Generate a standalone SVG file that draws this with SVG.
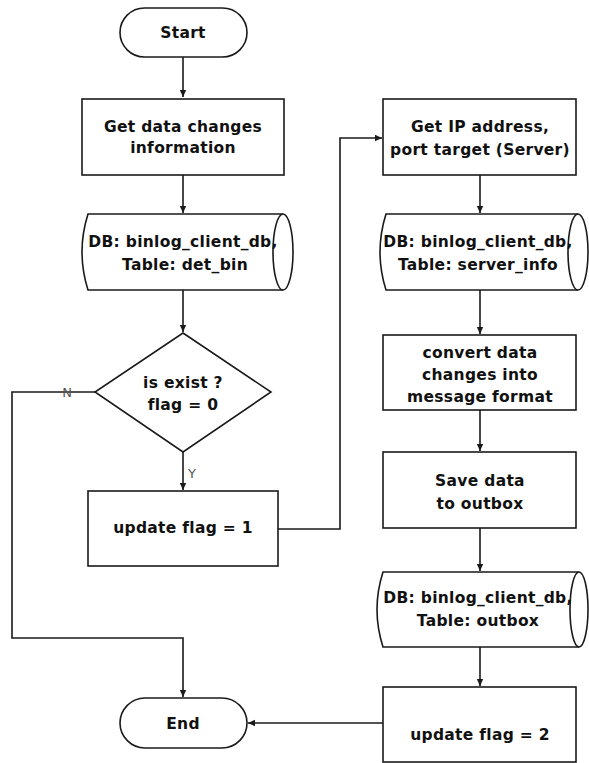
<svg xmlns="http://www.w3.org/2000/svg" width="589" height="763" viewBox="0 0 589 763">
<defs>
<marker id="arr" markerWidth="8" markerHeight="8" refX="7" refY="4" orient="auto" markerUnits="userSpaceOnUse">
<path d="M0,0.8 L7,4 L0,7.2 z" fill="#1a1a1a"/>
</marker>
<style>
.shape{fill:#fff;stroke:#1a1a1a;stroke-width:1.6}
.t{font-family:"DejaVu Sans","Liberation Sans",sans-serif;font-weight:bold;font-size:15.5px;fill:#111;text-anchor:middle;letter-spacing:0.3px}
.lbl{font-family:"DejaVu Sans","Liberation Sans",sans-serif;font-size:13px;fill:#555;text-anchor:middle}
.c{fill:none;stroke:#1a1a1a;stroke-width:1.6}
</style>
</defs>
<rect width="589" height="763" fill="#fff"/>
<g id="connectors">
<path class="c" d="M183 57 V97" marker-end="url(#arr)"/>
<path class="c" d="M183 175 V213" marker-end="url(#arr)"/>
<path class="c" d="M183 290 V332" marker-end="url(#arr)"/>
<path class="c" d="M183 452 V490" marker-end="url(#arr)"/>
<path class="c" d="M95 392 H12 V638 H183 V697" marker-end="url(#arr)"/>
<path class="c" d="M278 529 H340 V138 H382" marker-end="url(#arr)"/>
<path class="c" d="M480 175 V213" marker-end="url(#arr)"/>
<path class="c" d="M480 290 V334" marker-end="url(#arr)"/>
<path class="c" d="M480 410 V451" marker-end="url(#arr)"/>
<path class="c" d="M480 528 V571" marker-end="url(#arr)"/>
<path class="c" d="M480 647 V686" marker-end="url(#arr)"/>
<path class="c" d="M383 723 H248" marker-end="url(#arr)"/>
<text class="lbl" x="67" y="397">N</text>
<text class="lbl" x="192" y="478">Y</text>
</g>
<g id="start">
<rect class="shape" x="120" y="8" width="127" height="49" rx="24.5"/>
<text class="t" x="183" y="37.5">Start</text>
</g>
<g id="get-data">
<rect class="shape" x="82" y="99" width="202" height="76"/>
<text class="t" x="183" y="132">Get data changes</text>
<text class="t" x="183" y="153">information</text>
</g>
<g id="db-det-bin">
<path class="shape" d="M88 214 H283 V290 H88 Q76 252 88 214 z" style="stroke:none"/>
<path class="c" d="M283 214 H88 Q76 252 88 290 H283"/>
<ellipse class="shape" cx="283" cy="252" rx="10" ry="38"/>
<text class="t" x="183" y="247">DB: binlog_client_db,</text>
<text class="t" x="185" y="270">Table: det_bin</text>
</g>
<g id="decision">
<polygon class="shape" points="183,333 271,392 183,452 95,392"/>
<text class="t" x="183" y="388">is exist ?</text>
<text class="t" x="183" y="410">flag = 0</text>
</g>
<g id="update1">
<rect class="shape" x="88" y="491" width="190" height="75"/>
<text class="t" x="183" y="533">update flag = 1</text>
</g>
<g id="get-ip">
<rect class="shape" x="383" y="99" width="193" height="76"/>
<text class="t" x="480" y="132">Get IP address,</text>
<text class="t" x="480" y="155">port target (Server)</text>
</g>
<g id="db-server-info">
<path class="shape" d="M386 214 H578 V290 H386 Q374 252 386 214 z" style="stroke:none"/>
<path class="c" d="M578 214 H386 Q374 252 386 290 H578"/>
<ellipse class="shape" cx="578" cy="252" rx="10" ry="38"/>
<text class="t" x="478" y="247">DB: binlog_client_db,</text>
<text class="t" x="478" y="270">Table: server_info</text>
</g>
<g id="convert">
<rect class="shape" x="383" y="335" width="193" height="75"/>
<text class="t" x="480" y="358">convert data</text>
<text class="t" x="480" y="380">changes into</text>
<text class="t" x="480" y="402">message format</text>
</g>
<g id="save">
<rect class="shape" x="383" y="452" width="193" height="76"/>
<text class="t" x="480" y="486">Save data</text>
<text class="t" x="480" y="509">to outbox</text>
</g>
<g id="db-outbox">
<path class="shape" d="M383 572 H579 V647 H383 Q371 609.5 383 572 z" style="stroke:none"/>
<path class="c" d="M579 572 H383 Q371 609.5 383 647 H579"/>
<ellipse class="shape" cx="579" cy="609.5" rx="9" ry="37.5"/>
<text class="t" x="478" y="603">DB: binlog_client_db,</text>
<text class="t" x="478" y="626">Table: outbox</text>
</g>
<g id="update2">
<rect class="shape" x="383" y="687" width="193" height="75"/>
<text class="t" x="480" y="740">update flag = 2</text>
</g>
<g id="end">
<rect class="shape" x="120" y="698" width="127" height="50" rx="25"/>
<text class="t" x="183" y="729">End</text>
</g>
</svg>
